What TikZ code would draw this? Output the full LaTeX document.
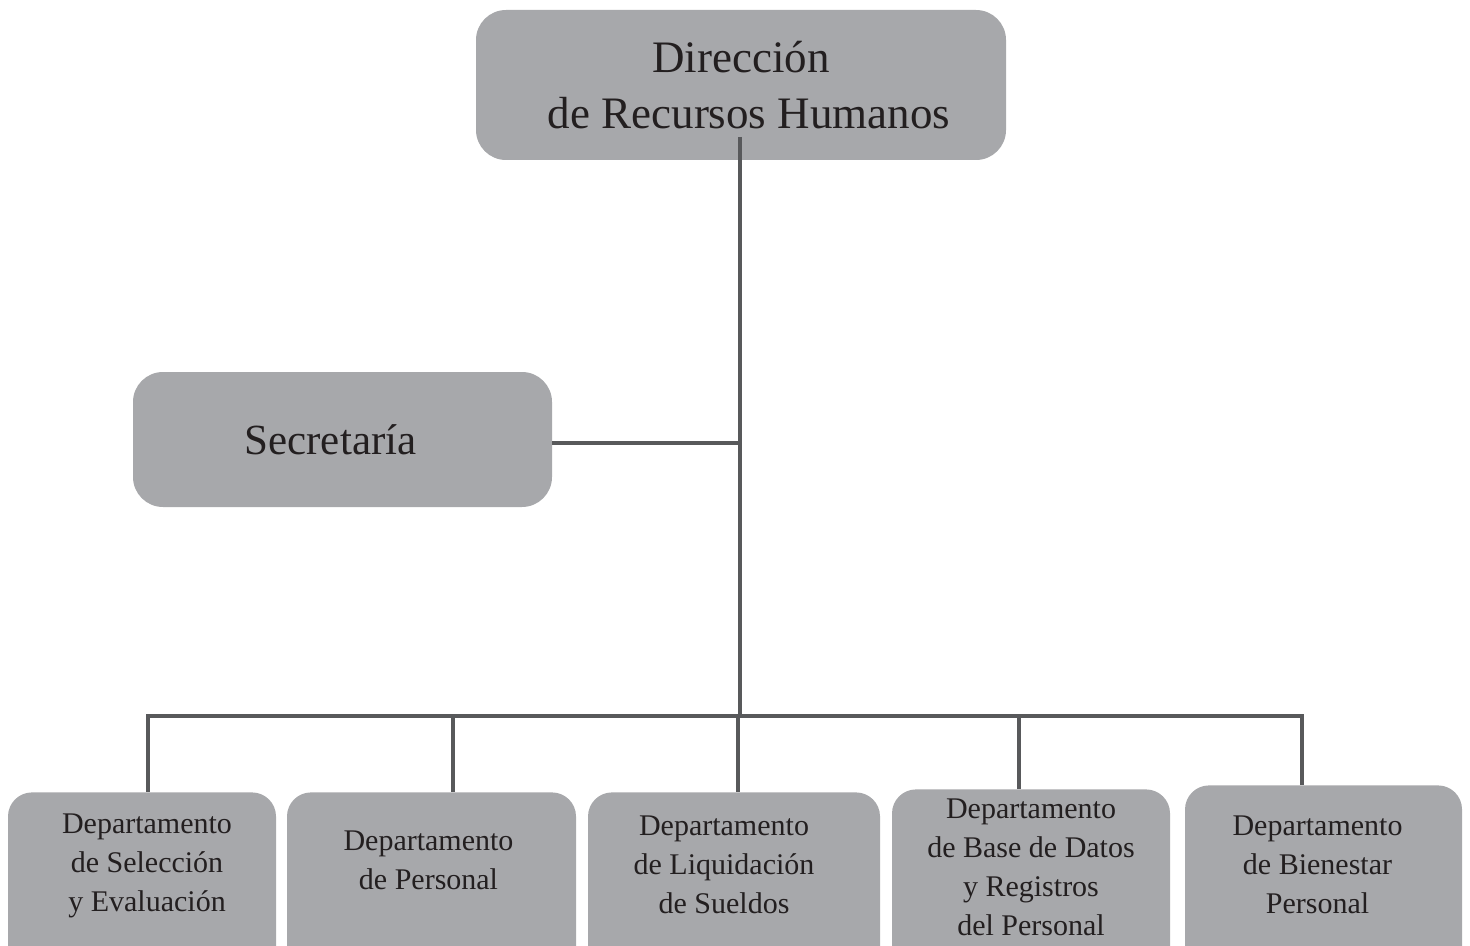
\documentclass[tikz,border=0pt]{standalone}
\usepackage{fontspec}
\setmainfont{Liberation Serif}
\usetikzlibrary{positioning}
\definecolor{boxgray}{HTML}{A7A8AB}
\definecolor{linegray}{HTML}{58595B}
\definecolor{inkblack}{HTML}{231F20}
\begin{document}
\begin{tikzpicture}[x=0.5pt,y=-0.5pt,
    unit/.style={fill=boxgray,rounded corners=15pt,inner sep=0pt,text=inkblack,align=center},
    dept/.style={unit,rounded corners=12pt,minimum height=100pt,anchor=north},
    depttext/.style={inner sep=0pt,align=center,text=inkblack,font=\fontsize{15}{19.5}\selectfont},
    conn/.style={draw=linegray,line width=2pt}]
\useasboundingbox (0,0) rectangle (1470,946);
\clip (0,0) rectangle (1470,946);

\node[unit,minimum width=265pt,minimum height=75pt,
    font=\fontsize{22.5}{28}\selectfont] at (741,85) (dir) {Dirección\\\hspace*{8pt}de Recursos Humanos};
\node[unit,minimum width=209.5pt,minimum height=67.5pt,
    font=\fontsize{21.5}{26}\selectfont] at (342.5,439.5) (sec) {Secretaría\hspace*{12pt}};

\node[dept,minimum width=134pt] at (142,792) (sel) {};
\node[depttext,below=10.5pt of sel.north,xshift=2.5pt] (selt) {Departamento\\de Selección\\y Evaluación};
\node[dept,minimum width=144.5pt] at (431.5,792) (per) {};
\node[depttext,below=19pt of per.north,xshift=-1.5pt] (pert) {Departamento\\de Personal};
\node[dept,minimum width=146pt] at (734,792) (liq) {};
\node[depttext,below=11.5pt of liq.north,xshift=-5pt] (liqt) {Departamento\\de Liquidación\\de Sueldos};
\node[dept,minimum width=139pt] at (1031,789) (bd) {};
\node[depttext,below=4.5pt of bd.north] (bdt) {Departamento\\de Base de Datos\\y Registros\\del Personal};
\node[dept,minimum width=138.5pt] at (1323.5,785) (bie) {};
\node[depttext,below=15pt of bie.north,xshift=-3pt] (biet) {Departamento\\de Bienestar\\Personal};

\coordinate (trunk) at (740,137);
\coordinate (bus) at (740,716);
\draw[conn] (trunk) -- (bus);
\draw[conn] ([yshift=-1.75pt]sec.east) -- ([yshift=-1.75pt]sec.east -| trunk);

\foreach \x/\n in {148/sel,453/per,738/liq,1019/bd,1302/bie}{
    \coordinate (bus-\n) at (\x,716);
    \draw[conn] (bus-\n) -- (bus-\n |- \n.north);
}
\draw[conn,line cap=rect] (bus-sel) -- (bus-bie);
\end{tikzpicture}
\end{document}
